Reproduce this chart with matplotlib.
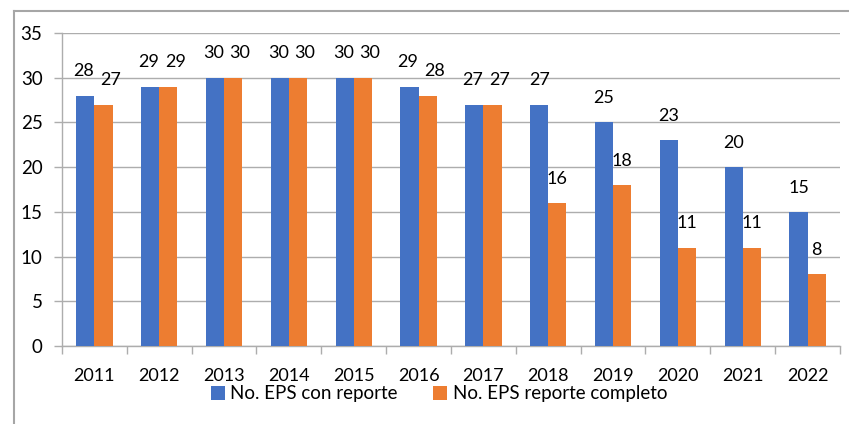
import matplotlib
matplotlib.use("Agg")
import matplotlib.pyplot as plt
import numpy as np
from matplotlib.lines import Line2D

years = ["2011", "2012", "2013", "2014", "2015", "2016", "2017", "2018", "2019", "2020", "2021", "2022"]
con_reporte = [28, 29, 30, 30, 30, 29, 27, 27, 25, 23, 20, 15]
reporte_completo = [27, 29, 30, 30, 30, 28, 27, 16, 18, 11, 11, 8]
series_names = ["No. EPS con reporte", "No. EPS reporte completo"]
yticks = [0, 5, 10, 15, 20, 25, 30, 35]

plt.rcParams['font.family'] = ['Lato', 'DejaVu Sans']

fig = plt.figure(figsize=(8.49, 4.24), dpi=100)
ax = fig.add_axes([62/849, 1-346/424, (840-62)/849, (346-33)/424])

blue = "#4472C4"
orange = "#ED7D31"
grid_c = "#ADADAD"
fs = 13

x = np.arange(len(years))
w = 0.28
b1 = ax.bar(x - w/2, con_reporte, w, color=blue, label=series_names[0], zorder=3)
b2 = ax.bar(x + w/2, reporte_completo, w, color=orange, label=series_names[1], zorder=3)

for i, (v1, v2) in enumerate(zip(con_reporte, reporte_completo)):
    close = abs(v1 - v2) <= 1
    dx1 = -1 if close else 0
    dx2 = 5 if close else 0
    for rect, v, dx in ((b1[i], v1, dx1), (b2[i], v2, dx2)):
        ax.annotate(str(v), (rect.get_x() + rect.get_width()/2, v),
                    xytext=(dx, 17.5), textcoords="offset points",
                    ha="center", va="center", fontsize=fs, color="#000000")

ax.set_xlim(-0.5, len(years) - 0.5)
ax.set_ylim(0, 35)
ax.set_yticks(yticks)
ax.set_yticklabels([str(t) for t in yticks], fontsize=13.5)
ax.set_xticks(np.arange(-0.5, len(years), 1.0))
ax.set_xticklabels([])
ax.set_xticks(x, minor=True)
ax.set_xticklabels(years, minor=True, fontsize=fs)
ax.tick_params(axis="x", which="major", length=6, color=grid_c, width=1)
ax.tick_params(axis="x", which="minor", length=0, pad=16)
ax.tick_params(axis="y", length=6, color=grid_c, width=1, pad=8)

ax.yaxis.grid(True, color=grid_c, linewidth=1, zorder=0)
ax.set_axisbelow(True)
for s in ("top", "right"):
    ax.spines[s].set_visible(False)
for s in ("left", "bottom"):
    ax.spines[s].set_color(grid_c)
    ax.spines[s].set_linewidth(1)

leg = fig.legend(handles=[b1, b2], labels=series_names, loc="center",
                 bbox_to_anchor=(439/849, 1-394/424), ncol=2, frameon=False,
                 fontsize=13.5, handlelength=0.75, handleheight=0.75,
                 handletextpad=0.3, columnspacing=1.9, borderpad=0)

# outer chart frame (partially cropped)
fx = 14/849
fy = 1 - 11/424
fig.add_artist(Line2D([fx, fx], [0, fy], transform=fig.transFigure, color="#A6A6A6", linewidth=1.5))
fig.add_artist(Line2D([fx, 1], [fy, fy], transform=fig.transFigure, color="#A6A6A6", linewidth=1.5))

fig.savefig("out.png", dpi=100)
